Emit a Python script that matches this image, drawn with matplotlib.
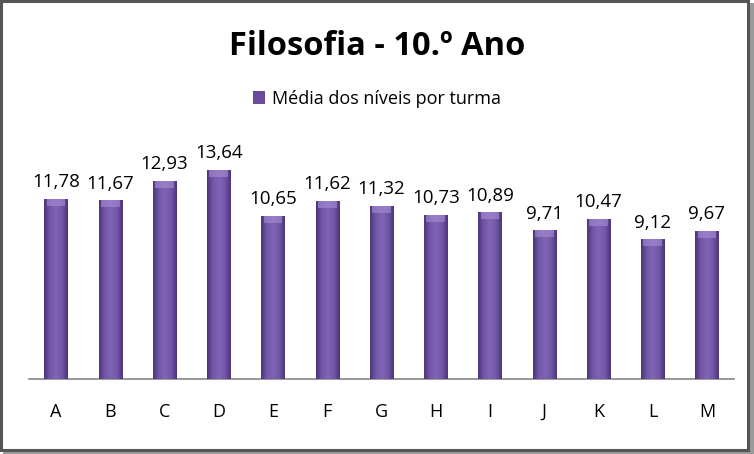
import matplotlib.pyplot as plt
import matplotlib.patches as mpatches
from matplotlib.colors import LinearSegmentedColormap
import numpy as np

turmas = ["A", "B", "C", "D", "E", "F", "G", "H", "I", "J", "K", "L", "M"]
medias = [11.78, 11.67, 12.93, 13.64, 10.65, 11.62, 11.32, 10.73, 10.89, 9.71, 10.47, 9.12, 9.67]
titulo = "Filosofia - 10.º Ano"
legenda = "Média dos níveis por turma"

plt.rcParams['font.family'] = ['Open Sans', 'DejaVu Sans']

fig = plt.figure(figsize=(7.54, 4.54), dpi=100)

# moldura com sombra
fig.patches.append(mpatches.Rectangle((0.004, 0.0), 0.996, 0.994, transform=fig.transFigure,
                                      facecolor="#9a9a9a", edgecolor="none", zorder=-2))
fig.patches.append(mpatches.Rectangle((0.0015, 0.009), 0.99, 0.988, transform=fig.transFigure,
                                      facecolor="white", edgecolor="#555555", linewidth=2.2, zorder=-1))

ax = fig.add_axes([29 / 754, 75 / 454, 705 / 754, 245 / 454])
ax.set_zorder(2)
ax.set_facecolor("none")
x = np.arange(len(turmas))
bars = ax.bar(x, medias, width=0.43, color="#6a4c9c", zorder=2)

# gradiente horizontal em cada barra
cmap = LinearSegmentedColormap.from_list("roxo", ["#4e3578", "#7358aa", "#8064b4", "#7358aa", "#4e3578"])
grad = np.linspace(0, 1, 64).reshape(1, -1)
for b in bars:
    x0, w, h = b.get_x(), b.get_width(), b.get_height()
    im = ax.imshow(grad, extent=[x0, x0 + w, 0, h], aspect="auto", cmap=cmap, zorder=3)
    im.set_clip_path(b)
    ax.add_patch(mpatches.Rectangle((x0 + w * 0.1, h - 0.45), w * 0.8, 0.45, facecolor="#a78fd6",
                                    edgecolor="none", alpha=0.6, zorder=4))
    ax.text(x0 + w / 2, h + 0.5, f"{h:.2f}".replace(".", ","), ha="center", va="bottom",
            fontsize=13.5, color="black", zorder=5)

ax.set_xlim(-0.5, len(turmas) - 0.5)
ax.set_ylim(0, 16)
ax.set_yticks([])
ax.set_xticks(x)
ax.set_xticklabels(turmas, fontsize=13)
ax.tick_params(axis="x", length=0, pad=17)
for s in ["top", "right", "left"]:
    ax.spines[s].set_visible(False)
ax.spines["bottom"].set_color("#868686")
ax.spines["bottom"].set_linewidth(1.2)

fig.text(0.5, 0.898, titulo, ha="center", va="center", fontsize=23.5, fontweight="bold")
handle = mpatches.Patch(facecolor="#6a4c9c", edgecolor="none")
fig.legend([handle], [legenda], loc="center", bbox_to_anchor=(0.5, 0.782), frameon=False,
           fontsize=13, handlelength=0.7, handleheight=0.7, handletextpad=0.4)

fig.savefig("out.png", dpi=100)
